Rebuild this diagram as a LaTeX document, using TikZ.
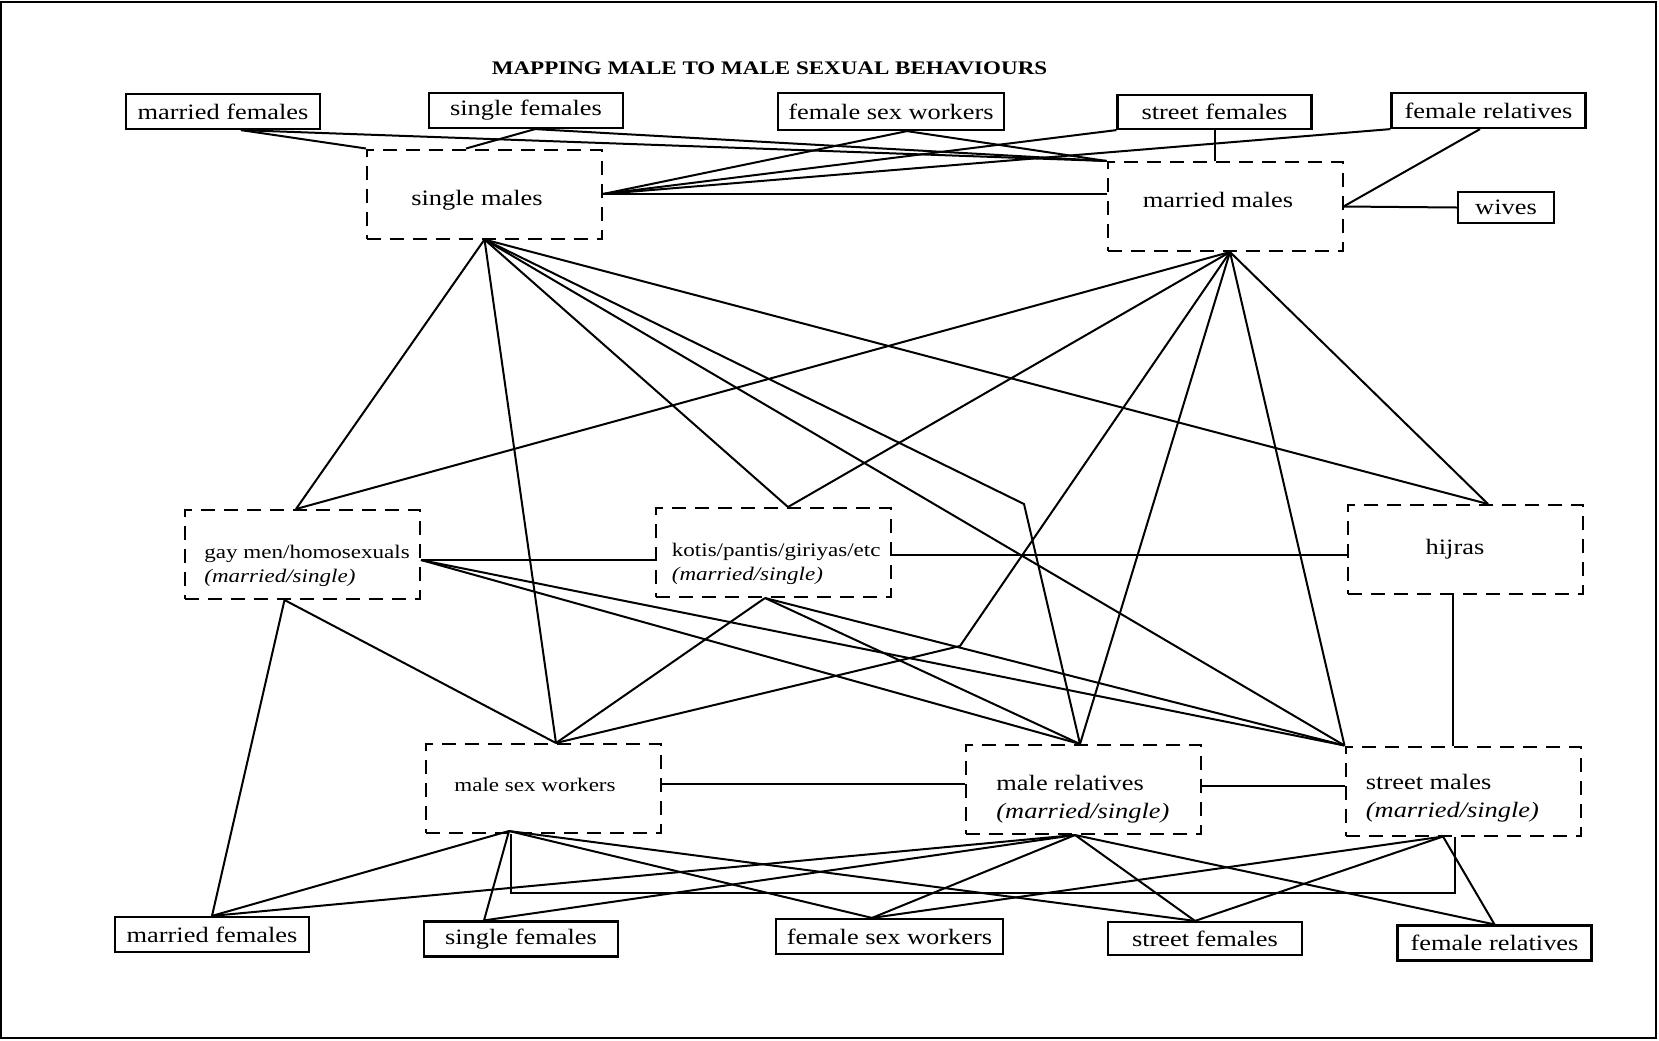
\documentclass[tikz,border=0pt]{standalone}
\usepackage{fontspec}
\setmainfont{Liberation Serif}[FakeStretch=1.2]
\usetikzlibrary{calc}

\tikzset{
  femalebox/.style={draw, line width=1.1pt, inner sep=0pt, minimum width=97pt, minimum height=17.5pt,
    font=\fontsize{11}{13}\selectfont},
  malebox/.style={draw, line width=1pt, dash pattern=on 7pt off 4.5pt, inner sep=0pt,
    minimum width=117.5pt, minimum height=44.5pt},
  boxtext/.style={inner sep=0pt, align=left, font=\fontsize{11}{14}\selectfont},
  smalltext/.style={boxtext, font=\fontsize{9.6}{12}\selectfont},
  link/.style={line width=1pt}
}

\begin{document}
\begin{tikzpicture}[x=0.5pt, y=-0.5pt]
\useasboundingbox (0,0) rectangle (1659,1040);
\draw[line width=1pt] (1,1.5) rectangle (1656,1038);

\node[font=\bfseries\fontsize{9.6}{11}\selectfont] (title) at (769.5,68) {MAPPING MALE TO MALE SEXUAL BEHAVIOURS};

\node[femalebox] (mfa) at (223,111.5) {married females};
\node[femalebox] (sfa) at (526,110.5) {single females};
\node[femalebox, minimum width=113pt, minimum height=18.5pt] (fswa) at (891,111.5) {female sex workers};
\node[femalebox, minimum height=17pt] (stfa) at (1214.5,112) {street females};
\node[femalebox] (fra) at (1488.5,110.5) {female relatives};
\node[femalebox, minimum width=48pt, minimum height=15.5pt] (wives) at (1506,207.5) {wives};

\node[malebox] (sm) at (484.5,194) {};
\node[malebox] (mm) at (1225,206.5) {};
\node[malebox] (gay) at (302.5,554.5) {};
\node[malebox] (koti) at (773,552.5) {};
\node[malebox] (hijra) at (1465.5,549.5) {};
\node[malebox] (msw) at (543.5,788.5) {};
\node[malebox] (mrel) at (1083.5,789.5) {};
\node[malebox] (strm) at (1463,791) {};

\node[boxtext] (sm-text) at (477,200) {single males};
\node[boxtext] (mm-text) at (1218,200) {married males};
\node[smalltext, anchor=west] (gay-text) at ($(gay.west)+(20,11.5)$) {gay men/homosexuals\\\textit{(married/single)}};
\node[smalltext, anchor=west] (koti-text) at ($(koti.west)+(17,11)$) {kotis/pantis/giriyas/etc\\\textit{(married/single)}};
\node[boxtext] (hijra-text) at (1455,549) {hijras};
\node[smalltext] (msw-text) at (535,785) {male sex workers};
\node[boxtext, anchor=west] (mrel-text) at ($(mrel.west)+(31,10)$) {male relatives\\\textit{(married/single)}};
\node[boxtext, anchor=west] (strm-text) at ($(strm.west)+(21,7)$) {street males\\\textit{(married/single)}};

\node[femalebox] (mfb) at (212,934.5) {married females};
\node[femalebox] (sfb) at (521,939) {single females};
\node[femalebox, minimum width=113.5pt] (fswb) at (889.5,936.5) {female sex workers};
\node[femalebox, minimum height=16.5pt] (stfb) at (1205,938.5) {street females};
\node[femalebox] (frb) at (1494.5,943) {female relatives};

\coordinate (mfa-b) at ($(mfa.south)+(18,0)$);
\coordinate (sfa-b) at ($(sfa.south)+(9,0)$);
\coordinate (fswa-b) at ($(fswa.south)+(16,0)$);
\coordinate (fra-b) at ($(fra.south)+(-8.5,0)$);
\coordinate (sm-t) at ($(sm.north)+(-18.5,0)$);
\coordinate (sm-b) at (sm.south);
\coordinate (mm-b) at ($(mm.south)+(5,0)$);
\coordinate (gay-t) at ($(gay.north)+(-6.5,0)$);
\coordinate (gay-r) at ($(gay.east)+(0,5.5)$);
\coordinate (gay-b) at ($(gay.south)+(-18,0)$);
\coordinate (koti-t) at ($(koti.north)+(15,0)$);
\coordinate (koti-r) at ($(koti.east)+(0,2.5)$);
\coordinate (koti-b) at ($(koti.south)+(-8,0)$);
\coordinate (hijra-t) at ($(hijra.north)+(22.5,0)$);
\coordinate (hijra-b) at ($(hijra.south)+(-13,0)$);
\coordinate (msw-t) at ($(msw.north)+(12.5,0)$);
\coordinate (msw-r) at ($(msw.east)+(0,-4.5)$);
\coordinate (msw-b) at ($(msw.south)+(-34.5,-3)$);
\coordinate (msw-c) at ($(msw.south)+(-32.5,0)$);
\coordinate (mrel-t) at ($(mrel.north)+(-3.5,0)$);
\coordinate (mrel-r) at ($(mrel.east)+(0,-3.5)$);
\coordinate (mrel-b) at ($(mrel.south)+(-8.5,0)$);
\coordinate (strm-t) at (strm.north west);
\coordinate (strm-b) at ($(strm.south)+(-20,0)$);
\coordinate (strm-c) at ($(strm.south)+(-8,0)$);
\coordinate (sfb-t) at ($(sfb.north)+(-37,0)$);
\coordinate (fswb-t) at ($(fswb.north)+(-17.5,0)$);
\coordinate (stfb-t) at ($(stfb.north)+(-10,0)$);
\coordinate (bend1) at (1024,504);
\coordinate (bend2) at (960,646);

\draw[link] (mfa-b) -- (sm.north west);
\draw[link] (mfa-b) -- (mm.north west);
\draw[link] (sfa-b) -- (sm-t);
\draw[link] (sfa-b) -- (mm.north west);
\draw[link] (fswa-b) -- (sm.east);
\draw[link] (fswa-b) -- (mm.north west);
\draw[link] (stfa.south west) -- (sm.east);
\draw[link] (stfa.south) -- (stfa.south |- mm.north);
\draw[link] (fra.south west) -- (sm.east);
\draw[link] (fra-b) -- (mm.east);
\draw[link] (sm.east) -- (sm.east -| mm.west);
\draw[link] (mm.east) -- (wives.west);

\draw[link] (sm-b) -- (gay-t);
\draw[link] (sm-b) -- (msw-t);
\draw[link] (sm-b) -- (koti-t);
\draw[link] (sm-b) -- (bend1) -- (mrel-t);
\draw[link] (sm-b) -- (strm-t);
\draw[link] (sm-b) -- (hijra-t);
\draw[link] (mm-b) -- (gay-t);
\draw[link] (mm-b) -- (koti-t);
\draw[link] (mm-b) -- (bend2) -- (msw-t);
\draw[link] (mm-b) -- (mrel-t);
\draw[link] (mm-b) -- (strm-t);
\draw[link] (mm-b) -- (hijra-t);

\draw[link] (gay-r) -- (gay-r -| koti.west);
\draw[link] (gay-r) -- (mrel-t);
\draw[link] (gay-r) -- (strm-t);
\draw[link] (gay-b) -- (mfb.north);
\draw[link] (gay-b) -- (msw-t);
\draw[link] (koti-r) -- (koti-r -| hijra.west);
\draw[link] (koti-b) -- (msw-t);
\draw[link] (koti-b) -- (mrel-t);
\draw[link] (koti-b) -- (strm-t);
\draw[link] (hijra-b) -- (hijra-b |- strm.north);
\draw[link] (msw-r) -- (msw-r -| mrel.west);
\draw[link] (mrel-r) -- (mrel-r -| strm.west);

\draw[link] (msw-b) -- (mfb.north);
\draw[link] (msw-b) -- (sfb-t);
\draw[link] (msw-b) -- (fswb-t);
\draw[link] (msw-b) -- (stfb-t);
\draw[link] (msw-c) -- ($(msw-c)+(0,59)$) -| (strm-c);
\draw[link] (mrel-b) -- (mfb.north);
\draw[link] (mrel-b) -- (sfb-t);
\draw[link] (mrel-b) -- (fswb-t);
\draw[link] (mrel-b) -- (stfb-t);
\draw[link] (mrel-b) -- (frb.north);
\draw[link] (strm-b) -- (fswb-t);
\draw[link] (strm-b) -- (stfb-t);
\draw[link] (strm-b) -- (frb.north);
\end{tikzpicture}
\end{document}
